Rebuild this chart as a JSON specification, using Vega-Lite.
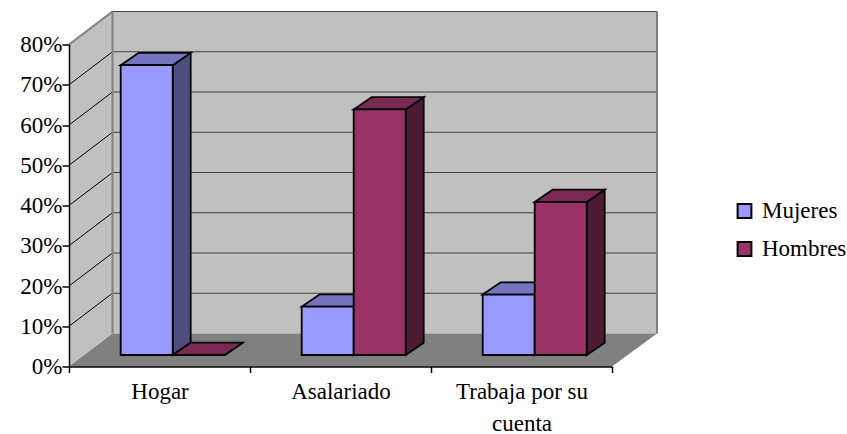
{
  "$schema": "https://vega.github.io/schema/vega-lite/v6.json",
  "width": 543,
  "height": 322,
  "autosize": "none",
  "padding": {"left": 69, "top": 44.5, "right": 235, "bottom": 67.5},
  "background": "white",
  "view": {"stroke": null},
  "datasets": {
    "empleo": [
      {"categoria": "Hogar", "serie": "Mujeres", "valor": 72},
      {"categoria": "Hogar", "serie": "Hombres", "valor": 0},
      {"categoria": "Asalariado", "serie": "Mujeres", "valor": 12},
      {"categoria": "Asalariado", "serie": "Hombres", "valor": 61},
      {"categoria": "Trabaja por su cuenta", "serie": "Mujeres", "valor": 15},
      {"categoria": "Trabaja por su cuenta", "serie": "Hombres", "valor": 38}
    ],
    "marcas": [{"v": 0}, {"v": 10}, {"v": 20}, {"v": 30}, {"v": 40}, {"v": 50}, {"v": 60}, {"v": 70}, {"v": 80}],
    "plano": [{"id": "plano"}]
  },
  "encoding": {
    "x": {
      "field": "px",
      "type": "quantitative",
      "scale": {"domain": [0, 3], "nice": false, "zero": false},
      "title": null,
      "axis": {
        "values": [0, 0.5, 1, 1.5, 2, 2.5, 3],
        "grid": false,
        "zindex": 1,
        "domainColor": "#000",
        "domainWidth": 1.5,
        "tickColor": "#000",
        "tickWidth": 1.5,
        "tickSize": 6,
        "tickOpacity": {"condition": {"test": "datum.value % 1 === 0", "value": 1}, "value": 0},
        "labelFont": "Liberation Serif",
        "labelFontSize": 23,
        "labelColor": "#000",
        "labelPadding": 8,
        "labelOverlap": false,
        "labelFlush": false,
        "labelLineHeight": 32,
        "labelExpr": "datum.value === 0.5 ? 'Hogar' : datum.value === 1.5 ? 'Asalariado' : datum.value === 2.5 ? ['Trabaja por su', 'cuenta'] : ''"
      }
    },
    "y": {
      "field": "py",
      "type": "quantitative",
      "scale": {"domain": [0, 80], "nice": false, "zero": false},
      "title": null,
      "axis": {
        "values": [0, 10, 20, 30, 40, 50, 60, 70, 80],
        "grid": false,
        "zindex": 1,
        "domainColor": "#000",
        "domainWidth": 1.5,
        "tickColor": "#000",
        "tickWidth": 1.5,
        "tickSize": 7,
        "labelFont": "Liberation Serif",
        "labelFontSize": 23,
        "labelColor": "#000",
        "labelPadding": 0,
        "labelExpr": "datum.value + '%'"
      }
    }
  },
  "layer": [
    {
      "description": "Back wall",
      "data": {"name": "plano"},
      "transform": [
        {"calculate": "0.2403", "as": "px"},
        {"calculate": "3.2486", "as": "px2"},
        {"calculate": "8.2", "as": "py"},
        {"calculate": "88.2", "as": "py2"}
      ],
      "mark": {"type": "rect", "fill": "#C0C0C0", "stroke": null},
      "encoding": {"x2": {"field": "px2"}, "y2": {"field": "py2"}}
    },
    {
      "description": "Left wall",
      "data": {"name": "plano"},
      "transform": [
        {"calculate": "[0, 1]", "as": "t"},
        {"flatten": ["t"]},
        {"calculate": "datum.t * 0.2403", "as": "px"},
        {"calculate": "datum.t * 8.2", "as": "py"},
        {"calculate": "80 + datum.t * 8.2", "as": "py2"}
      ],
      "mark": {"type": "area", "fill": "#C0C0C0", "stroke": null, "orient": "vertical"},
      "encoding": {"y2": {"field": "py2"}}
    },
    {
      "description": "Gridlines on the back wall",
      "data": {"name": "marcas"},
      "transform": [
        {"filter": "datum.v > 0"},
        {"calculate": "0.2403", "as": "px"},
        {"calculate": "3.2486", "as": "px2"},
        {"calculate": "datum.v + 8.2", "as": "py"},
        {"calculate": "datum.v + 8.2", "as": "py2"}
      ],
      "mark": {"type": "rule", "stroke": "#404040", "strokeWidth": 1.2},
      "encoding": {"x2": {"field": "px2"}, "y2": {"field": "py2"}}
    },
    {
      "description": "Gridlines on the left wall",
      "data": {"name": "marcas"},
      "transform": [
        {"filter": "datum.v > 0 && datum.v < 80"},
        {"calculate": "0", "as": "px"},
        {"calculate": "0.2403", "as": "px2"},
        {"calculate": "datum.v", "as": "py"},
        {"calculate": "datum.v + 8.2", "as": "py2"}
      ],
      "mark": {"type": "rule", "stroke": "#000", "strokeWidth": 1},
      "encoding": {"x2": {"field": "px2"}, "y2": {"field": "py2"}}
    },
    {
      "description": "Upper edge of the left wall",
      "data": {"name": "plano"},
      "transform": [
        {"calculate": "0", "as": "px"},
        {"calculate": "0.2403", "as": "px2"},
        {"calculate": "80", "as": "py"},
        {"calculate": "88.2", "as": "py2"}
      ],
      "mark": {"type": "rule", "stroke": "#808080", "strokeWidth": 2},
      "encoding": {"x2": {"field": "px2"}, "y2": {"field": "py2"}}
    },
    {
      "description": "Corner and right edge of the back wall",
      "data": {"name": "plano"},
      "transform": [
        {"calculate": "[0.2403, 3.2486]", "as": "px"},
        {"flatten": ["px"]},
        {"calculate": "8.2", "as": "py"},
        {"calculate": "88.2", "as": "py2"},
        {"calculate": "datum.px", "as": "px2"}
      ],
      "mark": {"type": "rule", "stroke": "#808080", "strokeWidth": 2},
      "encoding": {"x2": {"field": "px2"}, "y2": {"field": "py2"}}
    },
    {
      "description": "Floor",
      "data": {"name": "plano"},
      "transform": [
        {"calculate": "[0, 1, 2, 3]", "as": "t"},
        {"flatten": ["t"]},
        {"calculate": "datum.t === 0 ? 0 : datum.t === 1 ? 0.2403 : datum.t === 2 ? 3 : 3.2486", "as": "px"},
        {"calculate": "datum.t === 0 ? 0 : 8.2", "as": "py"},
        {"calculate": "datum.t < 3 ? 0 : 8.2", "as": "py2"}
      ],
      "mark": {"type": "area", "fill": "#808080", "stroke": null, "orient": "vertical"},
      "encoding": {"y2": {"field": "py2"}}
    },
    {
      "description": "Side faces of the bars",
      "data": {"name": "empleo"},
      "transform": [
        {"calculate": "indexof(['Hogar', 'Asalariado', 'Trabaja por su cuenta'], datum.categoria)", "as": "i"},
        {"calculate": "indexof(['Mujeres', 'Hombres'], datum.serie)", "as": "s"},
        {"calculate": "datum.categoria + datum.serie", "as": "id"},
        {"calculate": "[0, 1]", "as": "t"},
        {"flatten": ["t"]},
        {"calculate": "datum.i + 0.2856 + (datum.s + 1) * 0.2873 + datum.t * 0.0994", "as": "px"},
        {"calculate": "2.86 + datum.valor + datum.t * 3.06", "as": "py"},
        {"calculate": "2.86 + datum.t * 3.06", "as": "py2"}
      ],
      "mark": {"type": "area", "stroke": "#000", "strokeWidth": 1.8, "strokeJoin": "miter", "orient": "vertical"},
      "encoding": {
        "y2": {"field": "py2"},
        "detail": {"field": "id"},
        "fill": {"condition": {"test": "datum.serie === 'Mujeres'", "value": "#4D4D80"}, "value": "#4D1A33"}
      }
    },
    {
      "description": "Top faces of the bars",
      "data": {"name": "empleo"},
      "transform": [
        {"calculate": "indexof(['Hogar', 'Asalariado', 'Trabaja por su cuenta'], datum.categoria)", "as": "i"},
        {"calculate": "indexof(['Mujeres', 'Hombres'], datum.serie)", "as": "s"},
        {"calculate": "datum.categoria + datum.serie", "as": "id"},
        {"calculate": "[0, 1, 2, 3]", "as": "t"},
        {"flatten": ["t"]},
        {"calculate": "datum.i + 0.2856 + datum.s * 0.2873 + (datum.t === 0 ? 0 : datum.t === 1 ? 0.0994 : datum.t === 2 ? 0.2873 : 0.3867)", "as": "px"},
        {"calculate": "2.86 + datum.valor + (datum.t === 0 ? 0 : 3.06)", "as": "py"},
        {"calculate": "2.86 + datum.valor + (datum.t < 3 ? 0 : 3.06)", "as": "py2"}
      ],
      "mark": {"type": "area", "stroke": "#000", "strokeWidth": 1.8, "strokeJoin": "miter", "orient": "vertical"},
      "encoding": {
        "y2": {"field": "py2"},
        "detail": {"field": "id"},
        "fill": {"condition": {"test": "datum.serie === 'Mujeres'", "value": "#7575BF"}, "value": "#7A2952"}
      }
    },
    {
      "description": "Front faces of the bars, carrying the legend",
      "data": {"name": "empleo"},
      "transform": [
        {"calculate": "indexof(['Hogar', 'Asalariado', 'Trabaja por su cuenta'], datum.categoria)", "as": "i"},
        {"calculate": "indexof(['Mujeres', 'Hombres'], datum.serie)", "as": "s"},
        {"calculate": "datum.i + 0.2856 + datum.s * 0.2873", "as": "px"},
        {"calculate": "datum.i + 0.2856 + (datum.s + 1) * 0.2873", "as": "px2"},
        {"calculate": "2.86 + datum.valor", "as": "py"},
        {"calculate": "2.86", "as": "py2"}
      ],
      "mark": {"type": "rect", "stroke": "#000", "strokeWidth": 1.8},
      "encoding": {
        "x2": {"field": "px2"},
        "y2": {"field": "py2"},
        "color": {
          "field": "serie",
          "type": "nominal",
          "scale": {"domain": ["Mujeres", "Hombres"], "range": ["#9999FF", "#993366"]},
          "sort": ["Mujeres", "Hombres"],
          "legend": {
            "title": null,
            "orient": "none",
            "legendX": 664,
            "legendY": 155,
            "symbolType": "square",
            "symbolSize": 190,
            "symbolStrokeColor": "#000",
            "symbolStrokeWidth": 2,
            "symbolOpacity": 1,
            "labelFont": "Liberation Serif",
            "labelFontSize": 23,
            "labelColor": "#000",
            "labelOffset": 6,
            "rowPadding": 14,
            "labelLimit": 200
          }
        }
      }
    }
  ]
}
